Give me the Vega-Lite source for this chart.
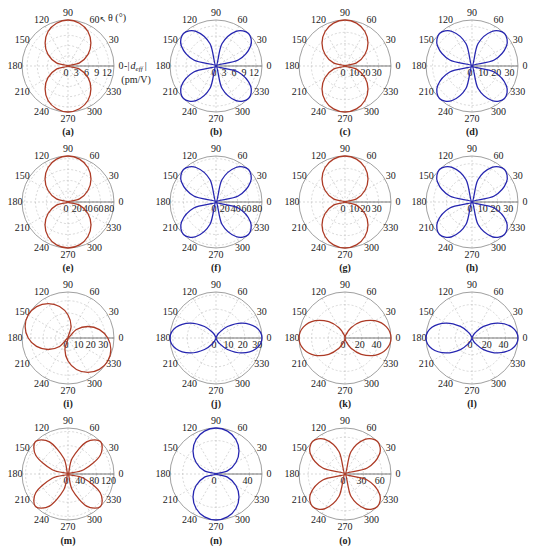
{
"$schema":"https://vega.github.io/schema/vega-lite/v6.json",
"padding":0,"autosize":{"type":"pad"},"background":"white",
"config":{"font":"Liberation Serif","view":{"stroke":null},"text":{"font":"Liberation Serif","fontSize":10,"color":"#222"},"style":{"tk":{"fontSize":8.5}}},
"datasets":{
"o":[{"n":1}],
"a":[{"a":0},{"a":30},{"a":60},{"a":90},{"a":120},{"a":150},{"a":180},{"a":210},{"a":240},{"a":270},{"a":300},{"a":330}],
"g":[
{"p":"a","v":0},{"p":"a","v":3},{"p":"a","v":6},{"p":"a","v":9},{"p":"a","v":12},
{"p":"b","v":0},{"p":"b","v":3},{"p":"b","v":6},{"p":"b","v":9},{"p":"b","v":12},
{"p":"c","v":0},{"p":"c","v":10},{"p":"c","v":20},{"p":"c","v":30},
{"p":"d","v":0},{"p":"d","v":10},{"p":"d","v":20},{"p":"d","v":30},
{"p":"e","v":0},{"p":"e","v":20},{"p":"e","v":40},{"p":"e","v":60},{"p":"e","v":80},
{"p":"f","v":0},{"p":"f","v":20},{"p":"f","v":40},{"p":"f","v":60},{"p":"f","v":80},
{"p":"g","v":0},{"p":"g","v":10},{"p":"g","v":20},{"p":"g","v":30},
{"p":"h","v":0},{"p":"h","v":10},{"p":"h","v":20},{"p":"h","v":30},
{"p":"i","v":0},{"p":"i","v":10},{"p":"i","v":20},{"p":"i","v":30},
{"p":"j","v":0},{"p":"j","v":10},{"p":"j","v":20},{"p":"j","v":30},
{"p":"k","v":0},{"p":"k","v":20},{"p":"k","v":40},
{"p":"l","v":0},{"p":"l","v":20},{"p":"l","v":40},
{"p":"m","v":0},{"p":"m","v":40},{"p":"m","v":80},{"p":"m","v":120},
{"p":"n","v":0},{"p":"n","v":40},
{"p":"o","v":0},{"p":"o","v":30},{"p":"o","v":60}
],
"c":[
{"p":"a","t":0,"r":0},{"p":"a","t":15,"r":3.5},{"p":"a","t":30,"r":6.8},{"p":"a","t":45,"r":9.5},{"p":"a","t":60,"r":11.7},{"p":"a","t":75,"r":13.0},{"p":"a","t":90,"r":13.5},{"p":"a","t":105,"r":13.0},{"p":"a","t":120,"r":11.7},{"p":"a","t":135,"r":9.5},{"p":"a","t":150,"r":6.8},{"p":"a","t":165,"r":3.5},{"p":"a","t":180,"r":0},{"p":"a","t":195,"r":3.5},{"p":"a","t":210,"r":6.8},{"p":"a","t":225,"r":9.5},{"p":"a","t":240,"r":11.7},{"p":"a","t":255,"r":13.0},{"p":"a","t":270,"r":13.5},{"p":"a","t":285,"r":13.0},{"p":"a","t":300,"r":11.7},{"p":"a","t":315,"r":9.5},{"p":"a","t":330,"r":6.8},{"p":"a","t":345,"r":3.5},
{"p":"b","t":0,"r":0},{"p":"b","t":15,"r":6.9},{"p":"b","t":30,"r":12.0},{"p":"b","t":45,"r":13.8},{"p":"b","t":60,"r":12.0},{"p":"b","t":75,"r":6.9},{"p":"b","t":90,"r":0},{"p":"b","t":105,"r":6.9},{"p":"b","t":120,"r":12.0},{"p":"b","t":135,"r":13.8},{"p":"b","t":150,"r":12.0},{"p":"b","t":165,"r":6.9},{"p":"b","t":180,"r":0},{"p":"b","t":195,"r":6.9},{"p":"b","t":210,"r":12.0},{"p":"b","t":225,"r":13.8},{"p":"b","t":240,"r":12.0},{"p":"b","t":255,"r":6.9},{"p":"b","t":270,"r":0},{"p":"b","t":285,"r":6.9},{"p":"b","t":300,"r":12.0},{"p":"b","t":315,"r":13.8},{"p":"b","t":330,"r":12.0},{"p":"b","t":345,"r":6.9},
{"p":"c","t":0,"r":0},{"p":"c","t":15,"r":10.6},{"p":"c","t":30,"r":20.5},{"p":"c","t":45,"r":29.0},{"p":"c","t":60,"r":35.5},{"p":"c","t":75,"r":39.6},{"p":"c","t":90,"r":41},{"p":"c","t":105,"r":39.6},{"p":"c","t":120,"r":35.5},{"p":"c","t":135,"r":29.0},{"p":"c","t":150,"r":20.5},{"p":"c","t":165,"r":10.6},{"p":"c","t":180,"r":0},{"p":"c","t":195,"r":10.6},{"p":"c","t":210,"r":20.5},{"p":"c","t":225,"r":29.0},{"p":"c","t":240,"r":35.5},{"p":"c","t":255,"r":39.6},{"p":"c","t":270,"r":41},{"p":"c","t":285,"r":39.6},{"p":"c","t":300,"r":35.5},{"p":"c","t":315,"r":29.0},{"p":"c","t":330,"r":20.5},{"p":"c","t":345,"r":10.6},
{"p":"d","t":0,"r":0},{"p":"d","t":15,"r":17.5},{"p":"d","t":30,"r":30.3},{"p":"d","t":45,"r":35},{"p":"d","t":60,"r":30.3},{"p":"d","t":75,"r":17.5},{"p":"d","t":90,"r":0},{"p":"d","t":105,"r":17.5},{"p":"d","t":120,"r":30.3},{"p":"d","t":135,"r":35},{"p":"d","t":150,"r":30.3},{"p":"d","t":165,"r":17.5},{"p":"d","t":180,"r":0},{"p":"d","t":195,"r":17.5},{"p":"d","t":210,"r":30.3},{"p":"d","t":225,"r":35},{"p":"d","t":240,"r":30.3},{"p":"d","t":255,"r":17.5},{"p":"d","t":270,"r":0},{"p":"d","t":285,"r":17.5},{"p":"d","t":300,"r":30.3},{"p":"d","t":315,"r":35},{"p":"d","t":330,"r":30.3},{"p":"d","t":345,"r":17.5},
{"p":"e","t":0,"r":0},{"p":"e","t":15,"r":22.0},{"p":"e","t":30,"r":42.5},{"p":"e","t":45,"r":60.1},{"p":"e","t":60,"r":73.6},{"p":"e","t":75,"r":82.1},{"p":"e","t":90,"r":85},{"p":"e","t":105,"r":82.1},{"p":"e","t":120,"r":73.6},{"p":"e","t":135,"r":60.1},{"p":"e","t":150,"r":42.5},{"p":"e","t":165,"r":22.0},{"p":"e","t":180,"r":0},{"p":"e","t":195,"r":22.0},{"p":"e","t":210,"r":42.5},{"p":"e","t":225,"r":60.1},{"p":"e","t":240,"r":73.6},{"p":"e","t":255,"r":82.1},{"p":"e","t":270,"r":85},{"p":"e","t":285,"r":82.1},{"p":"e","t":300,"r":73.6},{"p":"e","t":315,"r":60.1},{"p":"e","t":330,"r":42.5},{"p":"e","t":345,"r":22.0},
{"p":"f","t":0,"r":0},{"p":"f","t":15,"r":42.5},{"p":"f","t":30,"r":73.6},{"p":"f","t":45,"r":85},{"p":"f","t":60,"r":73.6},{"p":"f","t":75,"r":42.5},{"p":"f","t":90,"r":0},{"p":"f","t":105,"r":42.5},{"p":"f","t":120,"r":73.6},{"p":"f","t":135,"r":85},{"p":"f","t":150,"r":73.6},{"p":"f","t":165,"r":42.5},{"p":"f","t":180,"r":0},{"p":"f","t":195,"r":42.5},{"p":"f","t":210,"r":73.6},{"p":"f","t":225,"r":85},{"p":"f","t":240,"r":73.6},{"p":"f","t":255,"r":42.5},{"p":"f","t":270,"r":0},{"p":"f","t":285,"r":42.5},{"p":"f","t":300,"r":73.6},{"p":"f","t":315,"r":85},{"p":"f","t":330,"r":73.6},{"p":"f","t":345,"r":42.5},
{"p":"g","t":0,"r":0},{"p":"g","t":15,"r":10.6},{"p":"g","t":30,"r":20.5},{"p":"g","t":45,"r":29.0},{"p":"g","t":60,"r":35.5},{"p":"g","t":75,"r":39.6},{"p":"g","t":90,"r":41},{"p":"g","t":105,"r":39.6},{"p":"g","t":120,"r":35.5},{"p":"g","t":135,"r":29.0},{"p":"g","t":150,"r":20.5},{"p":"g","t":165,"r":10.6},{"p":"g","t":180,"r":0},{"p":"g","t":195,"r":10.6},{"p":"g","t":210,"r":20.5},{"p":"g","t":225,"r":29.0},{"p":"g","t":240,"r":35.5},{"p":"g","t":255,"r":39.6},{"p":"g","t":270,"r":41},{"p":"g","t":285,"r":39.6},{"p":"g","t":300,"r":35.5},{"p":"g","t":315,"r":29.0},{"p":"g","t":330,"r":20.5},{"p":"g","t":345,"r":10.6},
{"p":"h","t":0,"r":0},{"p":"h","t":15,"r":18},{"p":"h","t":30,"r":31.2},{"p":"h","t":45,"r":36},{"p":"h","t":60,"r":31.2},{"p":"h","t":75,"r":18},{"p":"h","t":90,"r":0},{"p":"h","t":105,"r":18},{"p":"h","t":120,"r":31.2},{"p":"h","t":135,"r":36},{"p":"h","t":150,"r":31.2},{"p":"h","t":165,"r":18},{"p":"h","t":180,"r":0},{"p":"h","t":195,"r":18},{"p":"h","t":210,"r":31.2},{"p":"h","t":225,"r":36},{"p":"h","t":240,"r":31.2},{"p":"h","t":255,"r":18},{"p":"h","t":270,"r":0},{"p":"h","t":285,"r":18},{"p":"h","t":300,"r":31.2},{"p":"h","t":315,"r":36},{"p":"h","t":330,"r":31.2},{"p":"h","t":345,"r":18},
{"p":"i","t":0,"r":32.0},{"p":"i","t":15,"r":26.2},{"p":"i","t":30,"r":18.5},{"p":"i","t":45,"r":9.6},{"p":"i","t":60,"r":0},{"p":"i","t":75,"r":9.6},{"p":"i","t":90,"r":18.5},{"p":"i","t":105,"r":26.2},{"p":"i","t":120,"r":32.0},{"p":"i","t":135,"r":35.7},{"p":"i","t":150,"r":37},{"p":"i","t":165,"r":35.7},{"p":"i","t":180,"r":32.0},{"p":"i","t":195,"r":26.2},{"p":"i","t":210,"r":18.5},{"p":"i","t":225,"r":9.6},{"p":"i","t":240,"r":0},{"p":"i","t":255,"r":9.6},{"p":"i","t":270,"r":18.5},{"p":"i","t":285,"r":26.2},{"p":"i","t":300,"r":32.0},{"p":"i","t":315,"r":35.7},{"p":"i","t":330,"r":37},{"p":"i","t":345,"r":35.7},
{"p":"j","t":0,"r":32},{"p":"j","t":15,"r":28.8},{"p":"j","t":30,"r":20.8},{"p":"j","t":45,"r":11.3},{"p":"j","t":60,"r":4.0},{"p":"j","t":75,"r":0.6},{"p":"j","t":90,"r":0},{"p":"j","t":105,"r":0.6},{"p":"j","t":120,"r":4.0},{"p":"j","t":135,"r":11.3},{"p":"j","t":150,"r":20.8},{"p":"j","t":165,"r":28.8},{"p":"j","t":180,"r":32},{"p":"j","t":195,"r":28.8},{"p":"j","t":210,"r":20.8},{"p":"j","t":225,"r":11.3},{"p":"j","t":240,"r":4.0},{"p":"j","t":255,"r":0.6},{"p":"j","t":270,"r":0},{"p":"j","t":285,"r":0.6},{"p":"j","t":300,"r":4.0},{"p":"j","t":315,"r":11.3},{"p":"j","t":330,"r":20.8},{"p":"j","t":345,"r":28.8},
{"p":"k","t":0,"r":55},{"p":"k","t":15,"r":51.3},{"p":"k","t":30,"r":41.3},{"p":"k","t":45,"r":27.5},{"p":"k","t":60,"r":13.8},{"p":"k","t":75,"r":3.7},{"p":"k","t":90,"r":0},{"p":"k","t":105,"r":3.7},{"p":"k","t":120,"r":13.8},{"p":"k","t":135,"r":27.5},{"p":"k","t":150,"r":41.3},{"p":"k","t":165,"r":51.3},{"p":"k","t":180,"r":55},{"p":"k","t":195,"r":51.3},{"p":"k","t":210,"r":41.3},{"p":"k","t":225,"r":27.5},{"p":"k","t":240,"r":13.8},{"p":"k","t":255,"r":3.7},{"p":"k","t":270,"r":0},{"p":"k","t":285,"r":3.7},{"p":"k","t":300,"r":13.8},{"p":"k","t":315,"r":27.5},{"p":"k","t":330,"r":41.3},{"p":"k","t":345,"r":51.3},
{"p":"l","t":0,"r":55},{"p":"l","t":15,"r":49.6},{"p":"l","t":30,"r":35.7},{"p":"l","t":45,"r":19.5},{"p":"l","t":60,"r":6.9},{"p":"l","t":75,"r":1.0},{"p":"l","t":90,"r":0},{"p":"l","t":105,"r":1.0},{"p":"l","t":120,"r":6.9},{"p":"l","t":135,"r":19.5},{"p":"l","t":150,"r":35.7},{"p":"l","t":165,"r":49.6},{"p":"l","t":180,"r":55},{"p":"l","t":195,"r":49.6},{"p":"l","t":210,"r":35.7},{"p":"l","t":225,"r":19.5},{"p":"l","t":240,"r":6.9},{"p":"l","t":255,"r":1.0},{"p":"l","t":270,"r":0},{"p":"l","t":285,"r":1.0},{"p":"l","t":300,"r":6.9},{"p":"l","t":315,"r":19.5},{"p":"l","t":330,"r":35.7},{"p":"l","t":345,"r":49.6},
{"p":"m","t":0,"r":0},{"p":"m","t":15,"r":46},{"p":"m","t":30,"r":104.8},{"p":"m","t":45,"r":130},{"p":"m","t":60,"r":104.8},{"p":"m","t":75,"r":46},{"p":"m","t":90,"r":0},{"p":"m","t":105,"r":46},{"p":"m","t":120,"r":104.8},{"p":"m","t":135,"r":130},{"p":"m","t":150,"r":104.8},{"p":"m","t":165,"r":46},{"p":"m","t":180,"r":0},{"p":"m","t":195,"r":46},{"p":"m","t":210,"r":104.8},{"p":"m","t":225,"r":130},{"p":"m","t":240,"r":104.8},{"p":"m","t":255,"r":46},{"p":"m","t":270,"r":0},{"p":"m","t":285,"r":46},{"p":"m","t":300,"r":104.8},{"p":"m","t":315,"r":130},{"p":"m","t":330,"r":104.8},{"p":"m","t":345,"r":46},
{"p":"n","t":0,"r":0},{"p":"n","t":15,"r":14.2},{"p":"n","t":30,"r":27.5},{"p":"n","t":45,"r":38.9},{"p":"n","t":60,"r":47.6},{"p":"n","t":75,"r":53.1},{"p":"n","t":90,"r":55},{"p":"n","t":105,"r":53.1},{"p":"n","t":120,"r":47.6},{"p":"n","t":135,"r":38.9},{"p":"n","t":150,"r":27.5},{"p":"n","t":165,"r":14.2},{"p":"n","t":180,"r":0},{"p":"n","t":195,"r":14.2},{"p":"n","t":210,"r":27.5},{"p":"n","t":225,"r":38.9},{"p":"n","t":240,"r":47.6},{"p":"n","t":255,"r":53.1},{"p":"n","t":270,"r":55},{"p":"n","t":285,"r":53.1},{"p":"n","t":300,"r":47.6},{"p":"n","t":315,"r":38.9},{"p":"n","t":330,"r":27.5},{"p":"n","t":345,"r":14.2},
{"p":"o","t":0,"r":0},{"p":"o","t":15,"r":37.5},{"p":"o","t":30,"r":65},{"p":"o","t":45,"r":75},{"p":"o","t":60,"r":65},{"p":"o","t":75,"r":37.5},{"p":"o","t":90,"r":0},{"p":"o","t":105,"r":37.5},{"p":"o","t":120,"r":65},{"p":"o","t":135,"r":75},{"p":"o","t":150,"r":65},{"p":"o","t":165,"r":37.5},{"p":"o","t":180,"r":0},{"p":"o","t":195,"r":37.5},{"p":"o","t":210,"r":65},{"p":"o","t":225,"r":75},{"p":"o","t":240,"r":65},{"p":"o","t":255,"r":37.5},{"p":"o","t":270,"r":0},{"p":"o","t":285,"r":37.5},{"p":"o","t":300,"r":65},{"p":"o","t":315,"r":75},{"p":"o","t":330,"r":65},{"p":"o","t":345,"r":37.5}
]},
"columns":4,"spacing":0,"bounds":"flush","align":"each",
"concat":[
{"width":142,"height":134,"encoding":{"x":{"field":"x","type":"quantitative","scale":{"domain":[-1.4783,1.6087],"nice":false,"zero":false},"axis":null},"y":{"field":"y","type":"quantitative","scale":{"domain":[-1.4783,1.4348],"nice":false,"zero":false},"axis":null}},"layer":[
{"data":{"name":"g"},"transform":[{"filter":"datum.p=='a'&&datum.v>0"},{"calculate":"0","as":"x"},{"calculate":"0","as":"y"},{"calculate":"datum.v/13.5","as":"s"}],"mark":{"type":"point","shape":"circle","filled":false,"opacity":1,"stroke":"#bdbdbd","strokeWidth":0.6,"strokeDash":[2,2]},"encoding":{"size":{"field":"s","type":"quantitative","scale":{"type":"pow","exponent":2,"domain":[0,1],"range":[0,8464]},"legend":null}}},
{"data":{"name":"a"},"transform":[{"calculate":"0","as":"x"},{"calculate":"0","as":"y"},{"calculate":"cos(datum.a*PI/180)","as":"x2"},{"calculate":"sin(datum.a*PI/180)","as":"y2"}],"mark":{"type":"rule","stroke":"#bdbdbd","strokeWidth":0.6,"strokeDash":[2,2]},"encoding":{"x2":{"field":"x2"},"y2":{"field":"y2"}}},
{"data":{"name":"o"},"transform":[{"calculate":"0","as":"x"},{"calculate":"0","as":"y"},{"calculate":"1","as":"x2"}],"mark":{"type":"rule","stroke":"#555","strokeWidth":0.8},"encoding":{"x2":{"field":"x2"}}},
{"data":{"name":"o"},"transform":[{"calculate":"0","as":"x"},{"calculate":"0","as":"y"}],"mark":{"type":"point","shape":"circle","filled":false,"opacity":1,"stroke":"#888","strokeWidth":0.8,"size":8464}},
{"data":{"name":"a"},"transform":[{"calculate":"1.15*cos(datum.a*PI/180)","as":"x"},{"calculate":"1.15*sin(datum.a*PI/180)","as":"y"}],"mark":{"type":"text"},"encoding":{"text":{"field":"a","type":"nominal"}}},
{"data":{"name":"g"},"transform":[{"filter":"datum.p=='a'"},{"calculate":"datum.v/13.5","as":"x"},{"calculate":"0","as":"y"}],"mark":{"type":"text","style":"tk","dx":-2,"dy":7},"encoding":{"text":{"field":"v","type":"nominal"}}},
{"data":{"name":"c"},"transform":[{"filter":"datum.p=='a'"},{"calculate":"datum.r/13.5*cos(datum.t*PI/180)","as":"x"},{"calculate":"datum.r/13.5*sin(datum.t*PI/180)","as":"y"}],"mark":{"type":"line","color":"#ad3b26","strokeWidth":1.3,"interpolate":"cardinal-closed"},"encoding":{"order":{"field":"t","type":"quantitative"}}},
{"data":{"name":"o"},"transform":[{"calculate":"0","as":"x"},{"calculate":"-1.43","as":"y"}],"mark":{"type":"text","fontWeight":"bold","text":"(a)"}},
{"data":{"name":"o"},"transform":[{"calculate":"0.87","as":"x"},{"calculate":"1.04","as":"y"}],"mark":{"type":"text","align":"left","text":"θ (°)"}},
{"data":{"name":"o"},"transform":[{"calculate":"0.76","as":"x"},{"calculate":"1.0","as":"y"}],"mark":{"type":"text","font":"DejaVu Sans","fontSize":8,"text":"↖"}},
{"data":{"name":"o"},"transform":[{"calculate":"1.22","as":"x"},{"calculate":"0","as":"y"}],"mark":{"type":"text","align":"left","text":"-|"}},
{"data":{"name":"o"},"transform":[{"calculate":"1.36","as":"x"},{"calculate":"0","as":"y"}],"mark":{"type":"text","align":"left","fontStyle":"italic","text":"d"}},
{"data":{"name":"o"},"transform":[{"calculate":"1.47","as":"x"},{"calculate":"0","as":"y"}],"mark":{"type":"text","align":"left","fontStyle":"italic","fontSize":7,"dy":3,"text":"eff"}},
{"data":{"name":"o"},"transform":[{"calculate":"1.67","as":"x"},{"calculate":"0","as":"y"}],"mark":{"type":"text","align":"left","text":"|"}},
{"data":{"name":"o"},"transform":[{"calculate":"1.48","as":"x"},{"calculate":"-0.30","as":"y"}],"mark":{"type":"text","text":"(pm/V)"}}
]},
{"width":138,"height":134,"encoding":{"x":{"field":"x","type":"quantitative","scale":{"domain":[-1.6087,1.3913],"nice":false,"zero":false},"axis":null},"y":{"field":"y","type":"quantitative","scale":{"domain":[-1.4783,1.4348],"nice":false,"zero":false},"axis":null}},"layer":[
{"data":{"name":"g"},"transform":[{"filter":"datum.p=='b'&&datum.v>0"},{"calculate":"0","as":"x"},{"calculate":"0","as":"y"},{"calculate":"datum.v/13.8","as":"s"}],"mark":{"type":"point","shape":"circle","filled":false,"opacity":1,"stroke":"#bdbdbd","strokeWidth":0.6,"strokeDash":[2,2]},"encoding":{"size":{"field":"s","type":"quantitative","scale":{"type":"pow","exponent":2,"domain":[0,1],"range":[0,8464]},"legend":null}}},
{"data":{"name":"a"},"transform":[{"calculate":"0","as":"x"},{"calculate":"0","as":"y"},{"calculate":"cos(datum.a*PI/180)","as":"x2"},{"calculate":"sin(datum.a*PI/180)","as":"y2"}],"mark":{"type":"rule","stroke":"#bdbdbd","strokeWidth":0.6,"strokeDash":[2,2]},"encoding":{"x2":{"field":"x2"},"y2":{"field":"y2"}}},
{"data":{"name":"o"},"transform":[{"calculate":"0","as":"x"},{"calculate":"0","as":"y"},{"calculate":"1","as":"x2"}],"mark":{"type":"rule","stroke":"#555","strokeWidth":0.8},"encoding":{"x2":{"field":"x2"}}},
{"data":{"name":"o"},"transform":[{"calculate":"0","as":"x"},{"calculate":"0","as":"y"}],"mark":{"type":"point","shape":"circle","filled":false,"opacity":1,"stroke":"#888","strokeWidth":0.8,"size":8464}},
{"data":{"name":"a"},"transform":[{"calculate":"1.15*cos(datum.a*PI/180)","as":"x"},{"calculate":"1.15*sin(datum.a*PI/180)","as":"y"}],"mark":{"type":"text"},"encoding":{"text":{"field":"a","type":"nominal"}}},
{"data":{"name":"g"},"transform":[{"filter":"datum.p=='b'"},{"calculate":"datum.v/13.8","as":"x"},{"calculate":"0","as":"y"}],"mark":{"type":"text","style":"tk","dx":-2,"dy":7},"encoding":{"text":{"field":"v","type":"nominal"}}},
{"data":{"name":"c"},"transform":[{"filter":"datum.p=='b'"},{"calculate":"datum.r/13.8*cos(datum.t*PI/180)","as":"x"},{"calculate":"datum.r/13.8*sin(datum.t*PI/180)","as":"y"}],"mark":{"type":"line","color":"#2626b0","strokeWidth":1.3,"interpolate":"cardinal-closed"},"encoding":{"order":{"field":"t","type":"quantitative"}}},
{"data":{"name":"o"},"transform":[{"calculate":"0","as":"x"},{"calculate":"-1.43","as":"y"}],"mark":{"type":"text","fontWeight":"bold","text":"(b)"}}
]},
{"width":128,"height":134,"encoding":{"x":{"field":"x","type":"quantitative","scale":{"domain":[-1.413,1.3696],"nice":false,"zero":false},"axis":null},"y":{"field":"y","type":"quantitative","scale":{"domain":[-1.4783,1.4348],"nice":false,"zero":false},"axis":null}},"layer":[
{"data":{"name":"g"},"transform":[{"filter":"datum.p=='c'&&datum.v>0"},{"calculate":"0","as":"x"},{"calculate":"0","as":"y"},{"calculate":"datum.v/41","as":"s"}],"mark":{"type":"point","shape":"circle","filled":false,"opacity":1,"stroke":"#bdbdbd","strokeWidth":0.6,"strokeDash":[2,2]},"encoding":{"size":{"field":"s","type":"quantitative","scale":{"type":"pow","exponent":2,"domain":[0,1],"range":[0,8464]},"legend":null}}},
{"data":{"name":"a"},"transform":[{"calculate":"0","as":"x"},{"calculate":"0","as":"y"},{"calculate":"cos(datum.a*PI/180)","as":"x2"},{"calculate":"sin(datum.a*PI/180)","as":"y2"}],"mark":{"type":"rule","stroke":"#bdbdbd","strokeWidth":0.6,"strokeDash":[2,2]},"encoding":{"x2":{"field":"x2"},"y2":{"field":"y2"}}},
{"data":{"name":"o"},"transform":[{"calculate":"0","as":"x"},{"calculate":"0","as":"y"},{"calculate":"1","as":"x2"}],"mark":{"type":"rule","stroke":"#555","strokeWidth":0.8},"encoding":{"x2":{"field":"x2"}}},
{"data":{"name":"o"},"transform":[{"calculate":"0","as":"x"},{"calculate":"0","as":"y"}],"mark":{"type":"point","shape":"circle","filled":false,"opacity":1,"stroke":"#888","strokeWidth":0.8,"size":8464}},
{"data":{"name":"a"},"transform":[{"calculate":"1.15*cos(datum.a*PI/180)","as":"x"},{"calculate":"1.15*sin(datum.a*PI/180)","as":"y"}],"mark":{"type":"text"},"encoding":{"text":{"field":"a","type":"nominal"}}},
{"data":{"name":"g"},"transform":[{"filter":"datum.p=='c'"},{"calculate":"datum.v/41","as":"x"},{"calculate":"0","as":"y"}],"mark":{"type":"text","style":"tk","dx":-2,"dy":7},"encoding":{"text":{"field":"v","type":"nominal"}}},
{"data":{"name":"c"},"transform":[{"filter":"datum.p=='c'"},{"calculate":"datum.r/41*cos(datum.t*PI/180)","as":"x"},{"calculate":"datum.r/41*sin(datum.t*PI/180)","as":"y"}],"mark":{"type":"line","color":"#ad3b26","strokeWidth":1.3,"interpolate":"cardinal-closed"},"encoding":{"order":{"field":"t","type":"quantitative"}}},
{"data":{"name":"o"},"transform":[{"calculate":"0","as":"x"},{"calculate":"-1.43","as":"y"}],"mark":{"type":"text","fontWeight":"bold","text":"(c)"}}
]},
{"width":126,"height":134,"encoding":{"x":{"field":"x","type":"quantitative","scale":{"domain":[-1.3913,1.3478],"nice":false,"zero":false},"axis":null},"y":{"field":"y","type":"quantitative","scale":{"domain":[-1.4783,1.4348],"nice":false,"zero":false},"axis":null}},"layer":[
{"data":{"name":"g"},"transform":[{"filter":"datum.p=='d'&&datum.v>0"},{"calculate":"0","as":"x"},{"calculate":"0","as":"y"},{"calculate":"datum.v/35","as":"s"}],"mark":{"type":"point","shape":"circle","filled":false,"opacity":1,"stroke":"#bdbdbd","strokeWidth":0.6,"strokeDash":[2,2]},"encoding":{"size":{"field":"s","type":"quantitative","scale":{"type":"pow","exponent":2,"domain":[0,1],"range":[0,8464]},"legend":null}}},
{"data":{"name":"a"},"transform":[{"calculate":"0","as":"x"},{"calculate":"0","as":"y"},{"calculate":"cos(datum.a*PI/180)","as":"x2"},{"calculate":"sin(datum.a*PI/180)","as":"y2"}],"mark":{"type":"rule","stroke":"#bdbdbd","strokeWidth":0.6,"strokeDash":[2,2]},"encoding":{"x2":{"field":"x2"},"y2":{"field":"y2"}}},
{"data":{"name":"o"},"transform":[{"calculate":"0","as":"x"},{"calculate":"0","as":"y"},{"calculate":"1","as":"x2"}],"mark":{"type":"rule","stroke":"#555","strokeWidth":0.8},"encoding":{"x2":{"field":"x2"}}},
{"data":{"name":"o"},"transform":[{"calculate":"0","as":"x"},{"calculate":"0","as":"y"}],"mark":{"type":"point","shape":"circle","filled":false,"opacity":1,"stroke":"#888","strokeWidth":0.8,"size":8464}},
{"data":{"name":"a"},"transform":[{"calculate":"1.15*cos(datum.a*PI/180)","as":"x"},{"calculate":"1.15*sin(datum.a*PI/180)","as":"y"}],"mark":{"type":"text"},"encoding":{"text":{"field":"a","type":"nominal"}}},
{"data":{"name":"g"},"transform":[{"filter":"datum.p=='d'"},{"calculate":"datum.v/35","as":"x"},{"calculate":"0","as":"y"}],"mark":{"type":"text","style":"tk","dx":-2,"dy":7},"encoding":{"text":{"field":"v","type":"nominal"}}},
{"data":{"name":"c"},"transform":[{"filter":"datum.p=='d'"},{"calculate":"datum.r/35*cos(datum.t*PI/180)","as":"x"},{"calculate":"datum.r/35*sin(datum.t*PI/180)","as":"y"}],"mark":{"type":"line","color":"#2626b0","strokeWidth":1.3,"interpolate":"cardinal-closed"},"encoding":{"order":{"field":"t","type":"quantitative"}}},
{"data":{"name":"o"},"transform":[{"calculate":"0","as":"x"},{"calculate":"-1.43","as":"y"}],"mark":{"type":"text","fontWeight":"bold","text":"(d)"}}
]},
{"width":142,"height":136,"encoding":{"x":{"field":"x","type":"quantitative","scale":{"domain":[-1.4783,1.6087],"nice":false,"zero":false},"axis":null},"y":{"field":"y","type":"quantitative","scale":{"domain":[-1.4783,1.4783],"nice":false,"zero":false},"axis":null}},"layer":[
{"data":{"name":"g"},"transform":[{"filter":"datum.p=='e'&&datum.v>0"},{"calculate":"0","as":"x"},{"calculate":"0","as":"y"},{"calculate":"datum.v/85","as":"s"}],"mark":{"type":"point","shape":"circle","filled":false,"opacity":1,"stroke":"#bdbdbd","strokeWidth":0.6,"strokeDash":[2,2]},"encoding":{"size":{"field":"s","type":"quantitative","scale":{"type":"pow","exponent":2,"domain":[0,1],"range":[0,8464]},"legend":null}}},
{"data":{"name":"a"},"transform":[{"calculate":"0","as":"x"},{"calculate":"0","as":"y"},{"calculate":"cos(datum.a*PI/180)","as":"x2"},{"calculate":"sin(datum.a*PI/180)","as":"y2"}],"mark":{"type":"rule","stroke":"#bdbdbd","strokeWidth":0.6,"strokeDash":[2,2]},"encoding":{"x2":{"field":"x2"},"y2":{"field":"y2"}}},
{"data":{"name":"o"},"transform":[{"calculate":"0","as":"x"},{"calculate":"0","as":"y"},{"calculate":"1","as":"x2"}],"mark":{"type":"rule","stroke":"#555","strokeWidth":0.8},"encoding":{"x2":{"field":"x2"}}},
{"data":{"name":"o"},"transform":[{"calculate":"0","as":"x"},{"calculate":"0","as":"y"}],"mark":{"type":"point","shape":"circle","filled":false,"opacity":1,"stroke":"#888","strokeWidth":0.8,"size":8464}},
{"data":{"name":"a"},"transform":[{"calculate":"1.15*cos(datum.a*PI/180)","as":"x"},{"calculate":"1.15*sin(datum.a*PI/180)","as":"y"}],"mark":{"type":"text"},"encoding":{"text":{"field":"a","type":"nominal"}}},
{"data":{"name":"g"},"transform":[{"filter":"datum.p=='e'"},{"calculate":"datum.v/85","as":"x"},{"calculate":"0","as":"y"}],"mark":{"type":"text","style":"tk","dx":-2,"dy":7},"encoding":{"text":{"field":"v","type":"nominal"}}},
{"data":{"name":"c"},"transform":[{"filter":"datum.p=='e'"},{"calculate":"datum.r/85*cos(datum.t*PI/180)","as":"x"},{"calculate":"datum.r/85*sin(datum.t*PI/180)","as":"y"}],"mark":{"type":"line","color":"#ad3b26","strokeWidth":1.3,"interpolate":"cardinal-closed"},"encoding":{"order":{"field":"t","type":"quantitative"}}},
{"data":{"name":"o"},"transform":[{"calculate":"0","as":"x"},{"calculate":"-1.43","as":"y"}],"mark":{"type":"text","fontWeight":"bold","text":"(e)"}}
]},
{"width":138,"height":136,"encoding":{"x":{"field":"x","type":"quantitative","scale":{"domain":[-1.6087,1.3913],"nice":false,"zero":false},"axis":null},"y":{"field":"y","type":"quantitative","scale":{"domain":[-1.4783,1.4783],"nice":false,"zero":false},"axis":null}},"layer":[
{"data":{"name":"g"},"transform":[{"filter":"datum.p=='f'&&datum.v>0"},{"calculate":"0","as":"x"},{"calculate":"0","as":"y"},{"calculate":"datum.v/85","as":"s"}],"mark":{"type":"point","shape":"circle","filled":false,"opacity":1,"stroke":"#bdbdbd","strokeWidth":0.6,"strokeDash":[2,2]},"encoding":{"size":{"field":"s","type":"quantitative","scale":{"type":"pow","exponent":2,"domain":[0,1],"range":[0,8464]},"legend":null}}},
{"data":{"name":"a"},"transform":[{"calculate":"0","as":"x"},{"calculate":"0","as":"y"},{"calculate":"cos(datum.a*PI/180)","as":"x2"},{"calculate":"sin(datum.a*PI/180)","as":"y2"}],"mark":{"type":"rule","stroke":"#bdbdbd","strokeWidth":0.6,"strokeDash":[2,2]},"encoding":{"x2":{"field":"x2"},"y2":{"field":"y2"}}},
{"data":{"name":"o"},"transform":[{"calculate":"0","as":"x"},{"calculate":"0","as":"y"},{"calculate":"1","as":"x2"}],"mark":{"type":"rule","stroke":"#555","strokeWidth":0.8},"encoding":{"x2":{"field":"x2"}}},
{"data":{"name":"o"},"transform":[{"calculate":"0","as":"x"},{"calculate":"0","as":"y"}],"mark":{"type":"point","shape":"circle","filled":false,"opacity":1,"stroke":"#888","strokeWidth":0.8,"size":8464}},
{"data":{"name":"a"},"transform":[{"calculate":"1.15*cos(datum.a*PI/180)","as":"x"},{"calculate":"1.15*sin(datum.a*PI/180)","as":"y"}],"mark":{"type":"text"},"encoding":{"text":{"field":"a","type":"nominal"}}},
{"data":{"name":"g"},"transform":[{"filter":"datum.p=='f'"},{"calculate":"datum.v/85","as":"x"},{"calculate":"0","as":"y"}],"mark":{"type":"text","style":"tk","dx":-2,"dy":7},"encoding":{"text":{"field":"v","type":"nominal"}}},
{"data":{"name":"c"},"transform":[{"filter":"datum.p=='f'"},{"calculate":"datum.r/85*cos(datum.t*PI/180)","as":"x"},{"calculate":"datum.r/85*sin(datum.t*PI/180)","as":"y"}],"mark":{"type":"line","color":"#2626b0","strokeWidth":1.3,"interpolate":"cardinal-closed"},"encoding":{"order":{"field":"t","type":"quantitative"}}},
{"data":{"name":"o"},"transform":[{"calculate":"0","as":"x"},{"calculate":"-1.43","as":"y"}],"mark":{"type":"text","fontWeight":"bold","text":"(f)"}}
]},
{"width":128,"height":136,"encoding":{"x":{"field":"x","type":"quantitative","scale":{"domain":[-1.413,1.3696],"nice":false,"zero":false},"axis":null},"y":{"field":"y","type":"quantitative","scale":{"domain":[-1.4783,1.4783],"nice":false,"zero":false},"axis":null}},"layer":[
{"data":{"name":"g"},"transform":[{"filter":"datum.p=='g'&&datum.v>0"},{"calculate":"0","as":"x"},{"calculate":"0","as":"y"},{"calculate":"datum.v/41","as":"s"}],"mark":{"type":"point","shape":"circle","filled":false,"opacity":1,"stroke":"#bdbdbd","strokeWidth":0.6,"strokeDash":[2,2]},"encoding":{"size":{"field":"s","type":"quantitative","scale":{"type":"pow","exponent":2,"domain":[0,1],"range":[0,8464]},"legend":null}}},
{"data":{"name":"a"},"transform":[{"calculate":"0","as":"x"},{"calculate":"0","as":"y"},{"calculate":"cos(datum.a*PI/180)","as":"x2"},{"calculate":"sin(datum.a*PI/180)","as":"y2"}],"mark":{"type":"rule","stroke":"#bdbdbd","strokeWidth":0.6,"strokeDash":[2,2]},"encoding":{"x2":{"field":"x2"},"y2":{"field":"y2"}}},
{"data":{"name":"o"},"transform":[{"calculate":"0","as":"x"},{"calculate":"0","as":"y"},{"calculate":"1","as":"x2"}],"mark":{"type":"rule","stroke":"#555","strokeWidth":0.8},"encoding":{"x2":{"field":"x2"}}},
{"data":{"name":"o"},"transform":[{"calculate":"0","as":"x"},{"calculate":"0","as":"y"}],"mark":{"type":"point","shape":"circle","filled":false,"opacity":1,"stroke":"#888","strokeWidth":0.8,"size":8464}},
{"data":{"name":"a"},"transform":[{"calculate":"1.15*cos(datum.a*PI/180)","as":"x"},{"calculate":"1.15*sin(datum.a*PI/180)","as":"y"}],"mark":{"type":"text"},"encoding":{"text":{"field":"a","type":"nominal"}}},
{"data":{"name":"g"},"transform":[{"filter":"datum.p=='g'"},{"calculate":"datum.v/41","as":"x"},{"calculate":"0","as":"y"}],"mark":{"type":"text","style":"tk","dx":-2,"dy":7},"encoding":{"text":{"field":"v","type":"nominal"}}},
{"data":{"name":"c"},"transform":[{"filter":"datum.p=='g'"},{"calculate":"datum.r/41*cos(datum.t*PI/180)","as":"x"},{"calculate":"datum.r/41*sin(datum.t*PI/180)","as":"y"}],"mark":{"type":"line","color":"#ad3b26","strokeWidth":1.3,"interpolate":"cardinal-closed"},"encoding":{"order":{"field":"t","type":"quantitative"}}},
{"data":{"name":"o"},"transform":[{"calculate":"0","as":"x"},{"calculate":"-1.43","as":"y"}],"mark":{"type":"text","fontWeight":"bold","text":"(g)"}}
]},
{"width":126,"height":136,"encoding":{"x":{"field":"x","type":"quantitative","scale":{"domain":[-1.3913,1.3478],"nice":false,"zero":false},"axis":null},"y":{"field":"y","type":"quantitative","scale":{"domain":[-1.4783,1.4783],"nice":false,"zero":false},"axis":null}},"layer":[
{"data":{"name":"g"},"transform":[{"filter":"datum.p=='h'&&datum.v>0"},{"calculate":"0","as":"x"},{"calculate":"0","as":"y"},{"calculate":"datum.v/36","as":"s"}],"mark":{"type":"point","shape":"circle","filled":false,"opacity":1,"stroke":"#bdbdbd","strokeWidth":0.6,"strokeDash":[2,2]},"encoding":{"size":{"field":"s","type":"quantitative","scale":{"type":"pow","exponent":2,"domain":[0,1],"range":[0,8464]},"legend":null}}},
{"data":{"name":"a"},"transform":[{"calculate":"0","as":"x"},{"calculate":"0","as":"y"},{"calculate":"cos(datum.a*PI/180)","as":"x2"},{"calculate":"sin(datum.a*PI/180)","as":"y2"}],"mark":{"type":"rule","stroke":"#bdbdbd","strokeWidth":0.6,"strokeDash":[2,2]},"encoding":{"x2":{"field":"x2"},"y2":{"field":"y2"}}},
{"data":{"name":"o"},"transform":[{"calculate":"0","as":"x"},{"calculate":"0","as":"y"},{"calculate":"1","as":"x2"}],"mark":{"type":"rule","stroke":"#555","strokeWidth":0.8},"encoding":{"x2":{"field":"x2"}}},
{"data":{"name":"o"},"transform":[{"calculate":"0","as":"x"},{"calculate":"0","as":"y"}],"mark":{"type":"point","shape":"circle","filled":false,"opacity":1,"stroke":"#888","strokeWidth":0.8,"size":8464}},
{"data":{"name":"a"},"transform":[{"calculate":"1.15*cos(datum.a*PI/180)","as":"x"},{"calculate":"1.15*sin(datum.a*PI/180)","as":"y"}],"mark":{"type":"text"},"encoding":{"text":{"field":"a","type":"nominal"}}},
{"data":{"name":"g"},"transform":[{"filter":"datum.p=='h'"},{"calculate":"datum.v/36","as":"x"},{"calculate":"0","as":"y"}],"mark":{"type":"text","style":"tk","dx":-2,"dy":7},"encoding":{"text":{"field":"v","type":"nominal"}}},
{"data":{"name":"c"},"transform":[{"filter":"datum.p=='h'"},{"calculate":"datum.r/36*cos(datum.t*PI/180)","as":"x"},{"calculate":"datum.r/36*sin(datum.t*PI/180)","as":"y"}],"mark":{"type":"line","color":"#2626b0","strokeWidth":1.3,"interpolate":"cardinal-closed"},"encoding":{"order":{"field":"t","type":"quantitative"}}},
{"data":{"name":"o"},"transform":[{"calculate":"0","as":"x"},{"calculate":"-1.43","as":"y"}],"mark":{"type":"text","fontWeight":"bold","text":"(h)"}}
]},
{"width":142,"height":136,"encoding":{"x":{"field":"x","type":"quantitative","scale":{"domain":[-1.4783,1.6087],"nice":false,"zero":false},"axis":null},"y":{"field":"y","type":"quantitative","scale":{"domain":[-1.4783,1.4783],"nice":false,"zero":false},"axis":null}},"layer":[
{"data":{"name":"g"},"transform":[{"filter":"datum.p=='i'&&datum.v>0"},{"calculate":"0","as":"x"},{"calculate":"0","as":"y"},{"calculate":"datum.v/37","as":"s"}],"mark":{"type":"point","shape":"circle","filled":false,"opacity":1,"stroke":"#bdbdbd","strokeWidth":0.6,"strokeDash":[2,2]},"encoding":{"size":{"field":"s","type":"quantitative","scale":{"type":"pow","exponent":2,"domain":[0,1],"range":[0,8464]},"legend":null}}},
{"data":{"name":"a"},"transform":[{"calculate":"0","as":"x"},{"calculate":"0","as":"y"},{"calculate":"cos(datum.a*PI/180)","as":"x2"},{"calculate":"sin(datum.a*PI/180)","as":"y2"}],"mark":{"type":"rule","stroke":"#bdbdbd","strokeWidth":0.6,"strokeDash":[2,2]},"encoding":{"x2":{"field":"x2"},"y2":{"field":"y2"}}},
{"data":{"name":"o"},"transform":[{"calculate":"0","as":"x"},{"calculate":"0","as":"y"},{"calculate":"1","as":"x2"}],"mark":{"type":"rule","stroke":"#555","strokeWidth":0.8},"encoding":{"x2":{"field":"x2"}}},
{"data":{"name":"o"},"transform":[{"calculate":"0","as":"x"},{"calculate":"0","as":"y"}],"mark":{"type":"point","shape":"circle","filled":false,"opacity":1,"stroke":"#888","strokeWidth":0.8,"size":8464}},
{"data":{"name":"a"},"transform":[{"calculate":"1.15*cos(datum.a*PI/180)","as":"x"},{"calculate":"1.15*sin(datum.a*PI/180)","as":"y"}],"mark":{"type":"text"},"encoding":{"text":{"field":"a","type":"nominal"}}},
{"data":{"name":"g"},"transform":[{"filter":"datum.p=='i'"},{"calculate":"datum.v/37","as":"x"},{"calculate":"0","as":"y"}],"mark":{"type":"text","style":"tk","dx":-2,"dy":7},"encoding":{"text":{"field":"v","type":"nominal"}}},
{"data":{"name":"c"},"transform":[{"filter":"datum.p=='i'"},{"calculate":"datum.r/37*cos(datum.t*PI/180)","as":"x"},{"calculate":"datum.r/37*sin(datum.t*PI/180)","as":"y"}],"mark":{"type":"line","color":"#ad3b26","strokeWidth":1.3,"interpolate":"cardinal-closed"},"encoding":{"order":{"field":"t","type":"quantitative"}}},
{"data":{"name":"o"},"transform":[{"calculate":"0","as":"x"},{"calculate":"-1.43","as":"y"}],"mark":{"type":"text","fontWeight":"bold","text":"(i)"}}
]},
{"width":138,"height":136,"encoding":{"x":{"field":"x","type":"quantitative","scale":{"domain":[-1.6087,1.3913],"nice":false,"zero":false},"axis":null},"y":{"field":"y","type":"quantitative","scale":{"domain":[-1.4783,1.4783],"nice":false,"zero":false},"axis":null}},"layer":[
{"data":{"name":"g"},"transform":[{"filter":"datum.p=='j'&&datum.v>0"},{"calculate":"0","as":"x"},{"calculate":"0","as":"y"},{"calculate":"datum.v/32","as":"s"}],"mark":{"type":"point","shape":"circle","filled":false,"opacity":1,"stroke":"#bdbdbd","strokeWidth":0.6,"strokeDash":[2,2]},"encoding":{"size":{"field":"s","type":"quantitative","scale":{"type":"pow","exponent":2,"domain":[0,1],"range":[0,8464]},"legend":null}}},
{"data":{"name":"a"},"transform":[{"calculate":"0","as":"x"},{"calculate":"0","as":"y"},{"calculate":"cos(datum.a*PI/180)","as":"x2"},{"calculate":"sin(datum.a*PI/180)","as":"y2"}],"mark":{"type":"rule","stroke":"#bdbdbd","strokeWidth":0.6,"strokeDash":[2,2]},"encoding":{"x2":{"field":"x2"},"y2":{"field":"y2"}}},
{"data":{"name":"o"},"transform":[{"calculate":"0","as":"x"},{"calculate":"0","as":"y"},{"calculate":"1","as":"x2"}],"mark":{"type":"rule","stroke":"#555","strokeWidth":0.8},"encoding":{"x2":{"field":"x2"}}},
{"data":{"name":"o"},"transform":[{"calculate":"0","as":"x"},{"calculate":"0","as":"y"}],"mark":{"type":"point","shape":"circle","filled":false,"opacity":1,"stroke":"#888","strokeWidth":0.8,"size":8464}},
{"data":{"name":"a"},"transform":[{"calculate":"1.15*cos(datum.a*PI/180)","as":"x"},{"calculate":"1.15*sin(datum.a*PI/180)","as":"y"}],"mark":{"type":"text"},"encoding":{"text":{"field":"a","type":"nominal"}}},
{"data":{"name":"g"},"transform":[{"filter":"datum.p=='j'"},{"calculate":"datum.v/32","as":"x"},{"calculate":"0","as":"y"}],"mark":{"type":"text","style":"tk","dx":-2,"dy":7},"encoding":{"text":{"field":"v","type":"nominal"}}},
{"data":{"name":"c"},"transform":[{"filter":"datum.p=='j'"},{"calculate":"datum.r/32*cos(datum.t*PI/180)","as":"x"},{"calculate":"datum.r/32*sin(datum.t*PI/180)","as":"y"}],"mark":{"type":"line","color":"#2626b0","strokeWidth":1.3,"interpolate":"cardinal-closed"},"encoding":{"order":{"field":"t","type":"quantitative"}}},
{"data":{"name":"o"},"transform":[{"calculate":"0","as":"x"},{"calculate":"-1.43","as":"y"}],"mark":{"type":"text","fontWeight":"bold","text":"(j)"}}
]},
{"width":128,"height":136,"encoding":{"x":{"field":"x","type":"quantitative","scale":{"domain":[-1.413,1.3696],"nice":false,"zero":false},"axis":null},"y":{"field":"y","type":"quantitative","scale":{"domain":[-1.4783,1.4783],"nice":false,"zero":false},"axis":null}},"layer":[
{"data":{"name":"g"},"transform":[{"filter":"datum.p=='k'&&datum.v>0"},{"calculate":"0","as":"x"},{"calculate":"0","as":"y"},{"calculate":"datum.v/55","as":"s"}],"mark":{"type":"point","shape":"circle","filled":false,"opacity":1,"stroke":"#bdbdbd","strokeWidth":0.6,"strokeDash":[2,2]},"encoding":{"size":{"field":"s","type":"quantitative","scale":{"type":"pow","exponent":2,"domain":[0,1],"range":[0,8464]},"legend":null}}},
{"data":{"name":"a"},"transform":[{"calculate":"0","as":"x"},{"calculate":"0","as":"y"},{"calculate":"cos(datum.a*PI/180)","as":"x2"},{"calculate":"sin(datum.a*PI/180)","as":"y2"}],"mark":{"type":"rule","stroke":"#bdbdbd","strokeWidth":0.6,"strokeDash":[2,2]},"encoding":{"x2":{"field":"x2"},"y2":{"field":"y2"}}},
{"data":{"name":"o"},"transform":[{"calculate":"0","as":"x"},{"calculate":"0","as":"y"},{"calculate":"1","as":"x2"}],"mark":{"type":"rule","stroke":"#555","strokeWidth":0.8},"encoding":{"x2":{"field":"x2"}}},
{"data":{"name":"o"},"transform":[{"calculate":"0","as":"x"},{"calculate":"0","as":"y"}],"mark":{"type":"point","shape":"circle","filled":false,"opacity":1,"stroke":"#888","strokeWidth":0.8,"size":8464}},
{"data":{"name":"a"},"transform":[{"calculate":"1.15*cos(datum.a*PI/180)","as":"x"},{"calculate":"1.15*sin(datum.a*PI/180)","as":"y"}],"mark":{"type":"text"},"encoding":{"text":{"field":"a","type":"nominal"}}},
{"data":{"name":"g"},"transform":[{"filter":"datum.p=='k'"},{"calculate":"datum.v/55","as":"x"},{"calculate":"0","as":"y"}],"mark":{"type":"text","style":"tk","dx":-2,"dy":7},"encoding":{"text":{"field":"v","type":"nominal"}}},
{"data":{"name":"c"},"transform":[{"filter":"datum.p=='k'"},{"calculate":"datum.r/55*cos(datum.t*PI/180)","as":"x"},{"calculate":"datum.r/55*sin(datum.t*PI/180)","as":"y"}],"mark":{"type":"line","color":"#ad3b26","strokeWidth":1.3,"interpolate":"cardinal-closed"},"encoding":{"order":{"field":"t","type":"quantitative"}}},
{"data":{"name":"o"},"transform":[{"calculate":"0","as":"x"},{"calculate":"-1.43","as":"y"}],"mark":{"type":"text","fontWeight":"bold","text":"(k)"}}
]},
{"width":126,"height":136,"encoding":{"x":{"field":"x","type":"quantitative","scale":{"domain":[-1.3913,1.3478],"nice":false,"zero":false},"axis":null},"y":{"field":"y","type":"quantitative","scale":{"domain":[-1.4783,1.4783],"nice":false,"zero":false},"axis":null}},"layer":[
{"data":{"name":"g"},"transform":[{"filter":"datum.p=='l'&&datum.v>0"},{"calculate":"0","as":"x"},{"calculate":"0","as":"y"},{"calculate":"datum.v/55","as":"s"}],"mark":{"type":"point","shape":"circle","filled":false,"opacity":1,"stroke":"#bdbdbd","strokeWidth":0.6,"strokeDash":[2,2]},"encoding":{"size":{"field":"s","type":"quantitative","scale":{"type":"pow","exponent":2,"domain":[0,1],"range":[0,8464]},"legend":null}}},
{"data":{"name":"a"},"transform":[{"calculate":"0","as":"x"},{"calculate":"0","as":"y"},{"calculate":"cos(datum.a*PI/180)","as":"x2"},{"calculate":"sin(datum.a*PI/180)","as":"y2"}],"mark":{"type":"rule","stroke":"#bdbdbd","strokeWidth":0.6,"strokeDash":[2,2]},"encoding":{"x2":{"field":"x2"},"y2":{"field":"y2"}}},
{"data":{"name":"o"},"transform":[{"calculate":"0","as":"x"},{"calculate":"0","as":"y"},{"calculate":"1","as":"x2"}],"mark":{"type":"rule","stroke":"#555","strokeWidth":0.8},"encoding":{"x2":{"field":"x2"}}},
{"data":{"name":"o"},"transform":[{"calculate":"0","as":"x"},{"calculate":"0","as":"y"}],"mark":{"type":"point","shape":"circle","filled":false,"opacity":1,"stroke":"#888","strokeWidth":0.8,"size":8464}},
{"data":{"name":"a"},"transform":[{"calculate":"1.15*cos(datum.a*PI/180)","as":"x"},{"calculate":"1.15*sin(datum.a*PI/180)","as":"y"}],"mark":{"type":"text"},"encoding":{"text":{"field":"a","type":"nominal"}}},
{"data":{"name":"g"},"transform":[{"filter":"datum.p=='l'"},{"calculate":"datum.v/55","as":"x"},{"calculate":"0","as":"y"}],"mark":{"type":"text","style":"tk","dx":-2,"dy":7},"encoding":{"text":{"field":"v","type":"nominal"}}},
{"data":{"name":"c"},"transform":[{"filter":"datum.p=='l'"},{"calculate":"datum.r/55*cos(datum.t*PI/180)","as":"x"},{"calculate":"datum.r/55*sin(datum.t*PI/180)","as":"y"}],"mark":{"type":"line","color":"#2626b0","strokeWidth":1.3,"interpolate":"cardinal-closed"},"encoding":{"order":{"field":"t","type":"quantitative"}}},
{"data":{"name":"o"},"transform":[{"calculate":"0","as":"x"},{"calculate":"-1.43","as":"y"}],"mark":{"type":"text","fontWeight":"bold","text":"(l)"}}
]},
{"width":142,"height":144,"encoding":{"x":{"field":"x","type":"quantitative","scale":{"domain":[-1.4783,1.6087],"nice":false,"zero":false},"axis":null},"y":{"field":"y","type":"quantitative","scale":{"domain":[-1.6522,1.4783],"nice":false,"zero":false},"axis":null}},"layer":[
{"data":{"name":"g"},"transform":[{"filter":"datum.p=='m'&&datum.v>0"},{"calculate":"0","as":"x"},{"calculate":"0","as":"y"},{"calculate":"datum.v/130","as":"s"}],"mark":{"type":"point","shape":"circle","filled":false,"opacity":1,"stroke":"#bdbdbd","strokeWidth":0.6,"strokeDash":[2,2]},"encoding":{"size":{"field":"s","type":"quantitative","scale":{"type":"pow","exponent":2,"domain":[0,1],"range":[0,8464]},"legend":null}}},
{"data":{"name":"a"},"transform":[{"calculate":"0","as":"x"},{"calculate":"0","as":"y"},{"calculate":"cos(datum.a*PI/180)","as":"x2"},{"calculate":"sin(datum.a*PI/180)","as":"y2"}],"mark":{"type":"rule","stroke":"#bdbdbd","strokeWidth":0.6,"strokeDash":[2,2]},"encoding":{"x2":{"field":"x2"},"y2":{"field":"y2"}}},
{"data":{"name":"o"},"transform":[{"calculate":"0","as":"x"},{"calculate":"0","as":"y"},{"calculate":"1","as":"x2"}],"mark":{"type":"rule","stroke":"#555","strokeWidth":0.8},"encoding":{"x2":{"field":"x2"}}},
{"data":{"name":"o"},"transform":[{"calculate":"0","as":"x"},{"calculate":"0","as":"y"}],"mark":{"type":"point","shape":"circle","filled":false,"opacity":1,"stroke":"#888","strokeWidth":0.8,"size":8464}},
{"data":{"name":"a"},"transform":[{"calculate":"1.15*cos(datum.a*PI/180)","as":"x"},{"calculate":"1.15*sin(datum.a*PI/180)","as":"y"}],"mark":{"type":"text"},"encoding":{"text":{"field":"a","type":"nominal"}}},
{"data":{"name":"g"},"transform":[{"filter":"datum.p=='m'"},{"calculate":"datum.v/130","as":"x"},{"calculate":"0","as":"y"}],"mark":{"type":"text","style":"tk","dx":-2,"dy":7},"encoding":{"text":{"field":"v","type":"nominal"}}},
{"data":{"name":"c"},"transform":[{"filter":"datum.p=='m'"},{"calculate":"datum.r/130*cos(datum.t*PI/180)","as":"x"},{"calculate":"datum.r/130*sin(datum.t*PI/180)","as":"y"}],"mark":{"type":"line","color":"#ad3b26","strokeWidth":1.3,"interpolate":"cardinal-closed"},"encoding":{"order":{"field":"t","type":"quantitative"}}},
{"data":{"name":"o"},"transform":[{"calculate":"0","as":"x"},{"calculate":"-1.45","as":"y"}],"mark":{"type":"text","fontWeight":"bold","text":"(m)"}}
]},
{"width":138,"height":144,"encoding":{"x":{"field":"x","type":"quantitative","scale":{"domain":[-1.6087,1.3913],"nice":false,"zero":false},"axis":null},"y":{"field":"y","type":"quantitative","scale":{"domain":[-1.6522,1.4783],"nice":false,"zero":false},"axis":null}},"layer":[
{"data":{"name":"g"},"transform":[{"filter":"datum.p=='n'&&datum.v>0"},{"calculate":"0","as":"x"},{"calculate":"0","as":"y"},{"calculate":"datum.v/55","as":"s"}],"mark":{"type":"point","shape":"circle","filled":false,"opacity":1,"stroke":"#bdbdbd","strokeWidth":0.6,"strokeDash":[2,2]},"encoding":{"size":{"field":"s","type":"quantitative","scale":{"type":"pow","exponent":2,"domain":[0,1],"range":[0,8464]},"legend":null}}},
{"data":{"name":"a"},"transform":[{"calculate":"0","as":"x"},{"calculate":"0","as":"y"},{"calculate":"cos(datum.a*PI/180)","as":"x2"},{"calculate":"sin(datum.a*PI/180)","as":"y2"}],"mark":{"type":"rule","stroke":"#bdbdbd","strokeWidth":0.6,"strokeDash":[2,2]},"encoding":{"x2":{"field":"x2"},"y2":{"field":"y2"}}},
{"data":{"name":"o"},"transform":[{"calculate":"0","as":"x"},{"calculate":"0","as":"y"},{"calculate":"1","as":"x2"}],"mark":{"type":"rule","stroke":"#555","strokeWidth":0.8},"encoding":{"x2":{"field":"x2"}}},
{"data":{"name":"o"},"transform":[{"calculate":"0","as":"x"},{"calculate":"0","as":"y"}],"mark":{"type":"point","shape":"circle","filled":false,"opacity":1,"stroke":"#888","strokeWidth":0.8,"size":8464}},
{"data":{"name":"a"},"transform":[{"calculate":"1.15*cos(datum.a*PI/180)","as":"x"},{"calculate":"1.15*sin(datum.a*PI/180)","as":"y"}],"mark":{"type":"text"},"encoding":{"text":{"field":"a","type":"nominal"}}},
{"data":{"name":"g"},"transform":[{"filter":"datum.p=='n'"},{"calculate":"datum.v/55","as":"x"},{"calculate":"0","as":"y"}],"mark":{"type":"text","style":"tk","dx":-2,"dy":7},"encoding":{"text":{"field":"v","type":"nominal"}}},
{"data":{"name":"c"},"transform":[{"filter":"datum.p=='n'"},{"calculate":"datum.r/55*cos(datum.t*PI/180)","as":"x"},{"calculate":"datum.r/55*sin(datum.t*PI/180)","as":"y"}],"mark":{"type":"line","color":"#2626b0","strokeWidth":1.3,"interpolate":"cardinal-closed"},"encoding":{"order":{"field":"t","type":"quantitative"}}},
{"data":{"name":"o"},"transform":[{"calculate":"0","as":"x"},{"calculate":"-1.45","as":"y"}],"mark":{"type":"text","fontWeight":"bold","text":"(n)"}}
]},
{"width":128,"height":144,"encoding":{"x":{"field":"x","type":"quantitative","scale":{"domain":[-1.413,1.3696],"nice":false,"zero":false},"axis":null},"y":{"field":"y","type":"quantitative","scale":{"domain":[-1.6522,1.4783],"nice":false,"zero":false},"axis":null}},"layer":[
{"data":{"name":"g"},"transform":[{"filter":"datum.p=='o'&&datum.v>0"},{"calculate":"0","as":"x"},{"calculate":"0","as":"y"},{"calculate":"datum.v/75","as":"s"}],"mark":{"type":"point","shape":"circle","filled":false,"opacity":1,"stroke":"#bdbdbd","strokeWidth":0.6,"strokeDash":[2,2]},"encoding":{"size":{"field":"s","type":"quantitative","scale":{"type":"pow","exponent":2,"domain":[0,1],"range":[0,8464]},"legend":null}}},
{"data":{"name":"a"},"transform":[{"calculate":"0","as":"x"},{"calculate":"0","as":"y"},{"calculate":"cos(datum.a*PI/180)","as":"x2"},{"calculate":"sin(datum.a*PI/180)","as":"y2"}],"mark":{"type":"rule","stroke":"#bdbdbd","strokeWidth":0.6,"strokeDash":[2,2]},"encoding":{"x2":{"field":"x2"},"y2":{"field":"y2"}}},
{"data":{"name":"o"},"transform":[{"calculate":"0","as":"x"},{"calculate":"0","as":"y"},{"calculate":"1","as":"x2"}],"mark":{"type":"rule","stroke":"#555","strokeWidth":0.8},"encoding":{"x2":{"field":"x2"}}},
{"data":{"name":"o"},"transform":[{"calculate":"0","as":"x"},{"calculate":"0","as":"y"}],"mark":{"type":"point","shape":"circle","filled":false,"opacity":1,"stroke":"#888","strokeWidth":0.8,"size":8464}},
{"data":{"name":"a"},"transform":[{"calculate":"1.15*cos(datum.a*PI/180)","as":"x"},{"calculate":"1.15*sin(datum.a*PI/180)","as":"y"}],"mark":{"type":"text"},"encoding":{"text":{"field":"a","type":"nominal"}}},
{"data":{"name":"g"},"transform":[{"filter":"datum.p=='o'"},{"calculate":"datum.v/75","as":"x"},{"calculate":"0","as":"y"}],"mark":{"type":"text","style":"tk","dx":-2,"dy":7},"encoding":{"text":{"field":"v","type":"nominal"}}},
{"data":{"name":"c"},"transform":[{"filter":"datum.p=='o'"},{"calculate":"datum.r/75*cos(datum.t*PI/180)","as":"x"},{"calculate":"datum.r/75*sin(datum.t*PI/180)","as":"y"}],"mark":{"type":"line","color":"#ad3b26","strokeWidth":1.3,"interpolate":"cardinal-closed"},"encoding":{"order":{"field":"t","type":"quantitative"}}},
{"data":{"name":"o"},"transform":[{"calculate":"0","as":"x"},{"calculate":"-1.45","as":"y"}],"mark":{"type":"text","fontWeight":"bold","text":"(o)"}}
]}
]
}
